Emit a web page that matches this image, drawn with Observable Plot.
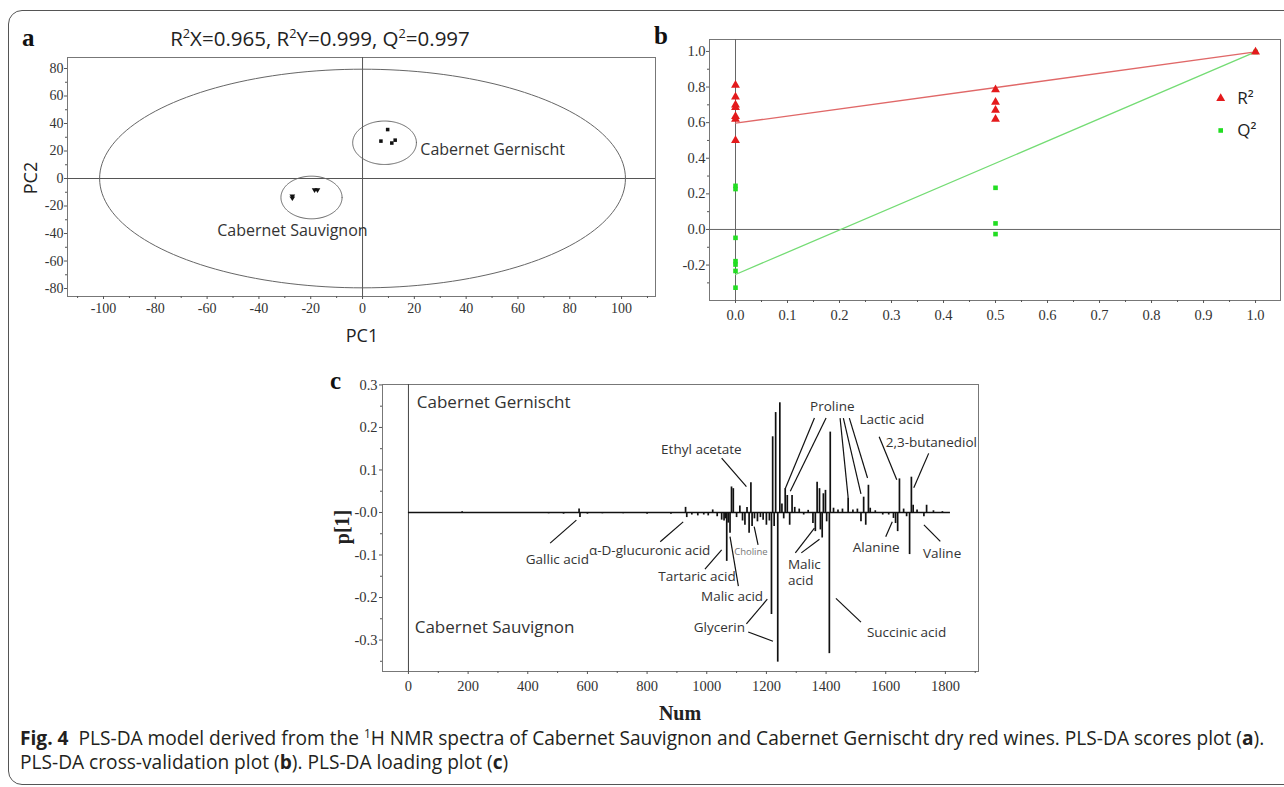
<!DOCTYPE html>
<html><head><meta charset="utf-8">
<script src="https://cdn.jsdelivr.net/npm/d3@7"></script>
<script src="https://cdn.jsdelivr.net/npm/@observablehq/plot@0.6"></script>
<style>
html,body{margin:0;padding:0;background:#fff;}
body{width:1284px;height:787px;overflow:hidden;position:relative;}
.border{position:absolute;left:8px;top:10px;width:1310px;height:775px;border:1.5px solid #555;border-radius:14px;box-sizing:border-box;}
.panel{position:absolute;}
.plabel{position:absolute;font-family:"Liberation Serif",serif;font-weight:bold;font-size:25px;line-height:28px;color:#111;}
.sans{position:absolute;font-family:"Open Sans",sans-serif;color:#222;white-space:nowrap;line-height:24px;}
.serifb{position:absolute;font-family:"Liberation Serif",serif;font-weight:bold;color:#222;white-space:nowrap;line-height:24px;}
sup{font-size:62%;line-height:0;}
.caption{position:absolute;left:20px;top:726px;font-family:"Open Sans",sans-serif;font-size:19.15px;line-height:24px;color:#231f20;white-space:nowrap;}
</style></head>
<body>
<div class="border"></div>
<div id="pa" class="panel" style="left:0;top:0"></div>
<div id="pb" class="panel" style="left:640px;top:0"></div>
<div id="pc" class="panel" style="left:320px;top:330px"></div>
<div class="plabel" style="left:22px;top:24px">a</div>
<div class="sans" style="left:320px;top:26px;font-size:20.5px;transform:translateX(-50%)">R<sup>2</sup>X=0.965, R<sup>2</sup>Y=0.999, Q<sup>2</sup>=0.997</div>
<div class="sans" style="left:362px;top:323px;font-size:18px;transform:translateX(-50%)">PC1</div>
<div class="sans" style="left:30px;top:178px;font-size:18px;transform:translate(-50%,-50%) rotate(-90deg)">PC2</div>
<div class="plabel" style="left:654px;top:22px">b</div>
<div class="plabel" style="left:330px;top:367px">c</div>
<div class="serifb" style="left:680px;top:701px;font-size:20px;transform:translateX(-50%)">Num</div>
<div class="serifb" style="left:342px;top:527px;font-size:20px;transform:translate(-50%,-50%) rotate(-90deg)">p[1]</div>
<div class="caption"><b>Fig. 4</b>&nbsp; PLS-DA model derived from the <sup>1</sup>H NMR spectra of Cabernet Sauvignon and Cabernet Gernischt dry red wines. PLS-DA scores plot (<b>a</b>).<br>PLS-DA cross-validation plot (<b>b</b>). PLS-DA loading plot (<b>c</b>)</div>
<script>
const serif = "'Liberation Serif','Times New Roman',serif";
const sans = "'Open Sans','Noto Sans',sans-serif";

// ---------- Panel a: scores plot ----------
const cgPC1 = [9.7, 7.1, 11.3, 12.6];
const cgPC2 = [35.6, 27.2, 25.8, 27.9];
const csPC1 = [-27.1, -27.1, -18.5, -17.4];
const csPC2 = [-12.8, -14.3, -8.4, -8.4];
const groupNames = ["Cabernet Gernischt", "Cabernet Sauvignon"];
const groupLabelPC1 = [22.3, -56.1];
const groupLabelPC2 = [20.8, -38.2];
const groupCirclePC1 = [8.5, -19.7];
const groupCirclePC2 = [26, -13.8];
const groupRadiusPC1 = [12.3, 11.8];
const groupRadiusPC2 = [15.8, 15.5];
const t2Radius = [101.5, 79.5];
const xTicksA = [-100, -80, -60, -40, -20, 0, 20, 40, 60, 80, 100];
const yTicksA = [-80, -60, -40, -20, 0, 20, 40, 60, 80];
const xMinorA = [-110, -90, -70, -50, -30, -10, 10, 30, 50, 70, 90, 110];
const yMinorA = [-70, -50, -30, -10, 10, 30, 50, 70];

// ---------- Panel b: cross-validation ----------
const r2Perm = [0, 0, 0, 0, 0, 0, 0, 0.5, 0.5, 0.5, 0.5, 1.0];
const r2Val = [0.81, 0.745, 0.70, 0.685, 0.635, 0.62, 0.50, 0.785, 0.715, 0.67, 0.62, 0.997];
const q2Perm = [0, 0, 0, 0, 0, 0, 0, 0.5, 0.5, 0.5, 1.0];
const q2Val = [0.245, 0.227, -0.047, -0.178, -0.197, -0.233, -0.327, 0.234, 0.034, -0.026, 0.997];
const fitX = [0, 1];
const r2Fit = [0.597, 0.997];
const q2Fit = [-0.253, 0.997];
const legendNames = ["R²", "Q²"];
const legendY = [0.736, 0.556];
const xTicksB = [0, 0.1, 0.2, 0.3, 0.4, 0.5, 0.6, 0.7, 0.8, 0.9, 1.0];
const xTickLabelsB = ["0.0","0.1","0.2","0.3","0.4","0.5","0.6","0.7","0.8","0.9","1.0"];
const xMinorB = [0.05, 0.15, 0.25, 0.35, 0.45, 0.55, 0.65, 0.75, 0.85, 0.95];
const yTicksB = [-0.2, 0, 0.2, 0.4, 0.6, 0.8, 1.0];
const yTickLabelsB = ["-0.2","0.0","0.2","0.4","0.6","0.8","1.0"];
const yMinorB = [-0.3, -0.1, 0.1, 0.3, 0.5, 0.7, 0.9];

// ---------- Panel c: loading plot ----------
const loadingPeaks = [
  [100,-0.002],[180,0.002],[330,-0.002],[470,-0.003],[520,-0.004],[572,0.008],[575,-0.012],[600,-0.004],
  [650,-0.003],[720,-0.003],[800,-0.004],[880,-0.004],[929,0.012],[933,-0.012],[950,-0.006],[970,-0.008],
  [990,-0.006],[1005,-0.008],[1020,0.006],[1035,-0.01],[1050,-0.018],[1058,-0.02],[1062,-0.015],[1067,-0.115],
  [1072,-0.025],[1078,-0.049],[1083,0.06],[1089,0.056],[1100,-0.012],[1111,0.015],[1120,-0.02],[1128,-0.03],
  [1135,0.012],[1142,-0.049],[1148,0.07],[1152,-0.033],[1160,-0.015],[1170,-0.022],[1180,-0.012],[1189,-0.018],
  [1200,-0.03],[1210,-0.02],[1217,-0.24],[1221,0.178],[1226,-0.033],[1231,0.235],[1238,-0.352],[1245,0.258],
  [1252,0.02],[1258,-0.015],[1263,0.056],[1270,0.04],[1278,-0.03],[1286,0.04],[1295,0.012],[1310,0.008],
  [1325,-0.006],[1340,0.005],[1356,-0.026],[1364,-0.045],[1370,0.071],[1378,0.056],[1381,-0.041],[1387,-0.06],
  [1391,0.044],[1398,0.052],[1402,-0.022],[1411,-0.332],[1414,0.189],[1425,0.01],[1440,0.006],[1455,0.008],
  [1474,0.034],[1490,0.006],[1505,0.008],[1517,-0.022],[1526,0.036],[1533,-0.03],[1542,0.064],[1548,0.01],
  [1565,0.004],[1590,-0.006],[1610,-0.006],[1626,-0.014],[1633,-0.026],[1640,-0.045],[1646,0.079],[1660,0.008],
  [1670,-0.01],[1680,-0.099],[1686,0.083],[1692,0.017],[1705,0.006],[1728,-0.01],[1737,0.017],[1760,0.004],[1790,0.002]
];
const spectrumRange = [0, 1817];
const annotText = ["Ethyl acetate","Proline","Lactic acid","2,3-butanediol","Alanine","Valine","Succinic acid","Malic\nacid","Glycerin","Malic acid","Tartaric acid","α-D-glucuronic acid","Gallic acid"];
const annotNum = [982, 1421, 1512, 1600, 1568, 1789, 1537, 1272, 1128, 1189, 1097, 605, 605];
const annotVal = [0.149, 0.252, 0.22, 0.167, -0.08, -0.094, -0.28, -0.139, -0.27, -0.196, -0.149, -0.088, -0.11];
const annotAnchor = ["middle","middle","start","start","middle","middle","start","start","end","end","end","start","end"];
const cholineLabel = ["Choline"], cholineNum = [1092], cholineVal = [-0.094];
const leaderNum1 = [1050,1361,1400,1447,1458,1478,1578,1744,1600,1783,1517,1297,1317,1172,1133,1139,1106,994,844,475];
const leaderVal1 = [0.128,0.222,0.222,0.222,0.222,0.222,0.178,0.139,-0.057,-0.068,-0.258,-0.095,-0.095,-0.076,-0.262,-0.281,-0.173,-0.133,-0.069,-0.072];
const leaderNum2 = [1133,1263,1280,1474,1517,1539,1637,1694,1622,1728,1433,1361,1378,1159,1203,1222,1078,1050,921,563];
const leaderVal2 = [0.061,0.056,0.05,0.035,0.044,0.081,0.077,0.058,-0.022,-0.029,-0.202,-0.037,-0.063,-0.033,-0.204,-0.303,-0.057,-0.088,-0.022,-0.018];
const sideNames = ["Cabernet Gernischt", "Cabernet Sauvignon"];
const sideNum = [28, 21];
const sideVal = [0.259, -0.27];
const xTicksC = [0, 200, 400, 600, 800, 1000, 1200, 1400, 1600, 1800];
const xMinorC = [100, 300, 500, 700, 900, 1100, 1300, 1500, 1700, 1900];
const yTicksC = [-0.3, -0.2, -0.1, 0, 0.1, 0.2, 0.3];
const yTickLabelsC = ["-0.3","-0.2","-0.1","-0.0","0.1","0.2","0.3"];
const yMinorC = [-0.35, -0.25, -0.15, -0.05, 0.05, 0.15, 0.25];

// helpers
const idx = (a) => a.map((_, i) => i);
function ellipsePoints(cx, cy, rx, ry) {
  return d3.range(0, 361, 2).map(a => ({x: cx + rx * Math.cos(a * Math.PI / 180), y: cy + ry * Math.sin(a * Math.PI / 180)}));
}
const downTriangle = {
  draw(ctx, size) {
    const r = Math.sqrt(size / Math.PI) * 1.25;
    ctx.moveTo(-r, -r * 0.6); ctx.lineTo(r, -r * 0.6); ctx.lineTo(0, r); ctx.closePath();
  }
};
const tickStyle = {fontFamily: serif, stroke: "#555"};
const minorStyle = {stroke: "#555", tickSize: 2, tickFormat: () => "", label: null};
function serifTicks(svg, size) {
  d3.select(svg).selectAll("text").filter(function () {
    return /^[-−]?\d+(\.\d+)?$/.test(this.textContent.trim());
  }).style("font-family", serif).style("font-size", size + "px");
}

// ---------- draw a ----------
const ellipses = [ellipsePoints(0, 0, t2Radius[0], t2Radius[1])]
  .concat(groupCirclePC1.map((cx, i) => ellipsePoints(cx, groupCirclePC2[i], groupRadiusPC1[i], groupRadiusPC2[i])));
const plotA = Plot.plot({
  width: 680, height: 350,
  marginLeft: 67, marginRight: 25, marginTop: 57, marginBottom: 54,
  x: {domain: [-113.9, 113.1]},
  y: {domain: [-85.8, 88]},
  style: {background: "transparent", color: "#333"},
  marks: [
    Plot.frame({stroke: "#777"}),
    Plot.ruleX([0], {stroke: "#555"}),
    Plot.ruleY([0], {stroke: "#555"}),
    ...ellipses.map(pts => Plot.line(pts, {x: "x", y: "y", stroke: "#666", strokeWidth: 1})),
    Plot.dot(idx(cgPC1), {x: i => cgPC1[i], y: i => cgPC2[i], symbol: "square", r: 2, fill: "#111", stroke: null}),
    Plot.dot(idx(csPC1), {x: i => csPC1[i], y: i => csPC2[i], symbol: downTriangle, r: 2.3, fill: "#111", stroke: null}),
    Plot.text(idx(groupNames), {x: i => groupLabelPC1[i], y: i => groupLabelPC2[i], text: i => groupNames[i], textAnchor: "start", fontFamily: sans, fontSize: 16, fill: "#333"}),
    Plot.axisX(xTicksA, {...tickStyle, tickSize: 3, tickPadding: 4, tickFormat: d => String(d), label: null}),
    Plot.axisX(xMinorA, minorStyle),
    Plot.axisY(yTicksA, {...tickStyle, tickSize: 3, tickPadding: 1, tickFormat: d => String(d), label: null}),
    Plot.axisY(yMinorA, minorStyle)
  ]
});
serifTicks(plotA, 14);
document.getElementById("pa").appendChild(plotA);

// ---------- draw b ----------
const plotB = Plot.plot({
  width: 644, height: 340,
  marginLeft: 69, marginRight: 4, marginTop: 39, marginBottom: 40,
  x: {domain: [-0.05, 1.048]},
  y: {domain: [-0.399, 1.067]},
  style: {background: "transparent", color: "#333"},
  marks: [
    Plot.frame({stroke: "#777"}),
    Plot.ruleX([0], {stroke: "#666"}),
    Plot.ruleY([0], {stroke: "#666"}),
    Plot.line(idx(fitX), {x: i => fitX[i], y: i => r2Fit[i], stroke: "#e06868", strokeWidth: 1.3}),
    Plot.line(idx(fitX), {x: i => fitX[i], y: i => q2Fit[i], stroke: "#74dc74", strokeWidth: 1.3}),
    Plot.dot(idx(q2Perm), {x: i => q2Perm[i], y: i => q2Val[i], symbol: "square", r: 2.6, fill: "#22dd22", stroke: null}),
    Plot.dot(idx(r2Perm), {x: i => r2Perm[i], y: i => r2Val[i], symbol: "triangle", r: 3.3, fill: "#e41a1c", stroke: null}),
    Plot.dot([0], {x: 0.933, y: legendY[0], symbol: "triangle", r: 3.3, fill: "#e41a1c", stroke: null}),
    Plot.dot([0], {x: 0.933, y: legendY[1], symbol: "square", r: 2.6, fill: "#22dd22", stroke: null}),
    Plot.text(idx(legendNames), {x: 0.965, y: i => legendY[i], text: i => legendNames[i], textAnchor: "start", fontFamily: sans, fontSize: 17, fill: "#222"}),
    Plot.axisX(xTicksB, {...tickStyle, tickSize: 3, tickPadding: 6, tickFormat: (d, i) => xTickLabelsB[i], label: null}),
    Plot.axisX(xMinorB, minorStyle),
    Plot.axisY(yTicksB, {...tickStyle, tickSize: 3, tickPadding: 1, tickFormat: (d, i) => yTickLabelsB[i], label: null}),
    Plot.axisY(yMinorB, minorStyle)
  ]
});
serifTicks(plotB, 14.5);
document.getElementById("pb").appendChild(plotB);

// ---------- draw c ----------
const annotMarks = ["start", "middle", "end"].map(anchor => {
  const ids = idx(annotText).filter(i => annotAnchor[i] === anchor);
  return Plot.text(ids, {x: i => annotNum[i], y: i => annotVal[i], text: i => annotText[i], textAnchor: anchor, lineHeight: 1.2, fontFamily: sans, fontSize: 13.5, fill: "#333"});
});
const plotC = Plot.plot({
  width: 680, height: 400,
  marginLeft: 62, marginRight: 22, marginTop: 54, marginBottom: 59,
  x: {domain: [-87, 1911]},
  y: {domain: [-0.374, 0.301]},
  style: {background: "transparent", color: "#333"},
  marks: [
    Plot.frame({stroke: "#777"}),
    Plot.ruleX([0], {stroke: "#444"}),
    Plot.ruleY([0], {x1: spectrumRange[0], x2: spectrumRange[1], stroke: "#111", strokeWidth: 1.5}),
    Plot.ruleX(loadingPeaks, {x: d => d[0], y1: 0, y2: d => d[1], stroke: "#111", strokeWidth: 1.7}),
    Plot.link(idx(leaderNum1), {x1: i => leaderNum1[i], y1: i => leaderVal1[i], x2: i => leaderNum2[i], y2: i => leaderVal2[i], stroke: "#111", strokeWidth: 1.2}),
    ...annotMarks,
    Plot.text(cholineLabel, {x: cholineNum[0], y: cholineVal[0], text: d => d, textAnchor: "start", fontFamily: sans, fontSize: 9.5, fill: "#777"}),
    Plot.text(idx(sideNames), {x: i => sideNum[i], y: i => sideVal[i], text: i => sideNames[i], textAnchor: "start", fontFamily: sans, fontSize: 17, fill: "#333"}),
    Plot.axisX(xTicksC, {...tickStyle, tickSize: 3, tickPadding: 6, label: null, tickFormat: d => String(d)}),
    Plot.axisX(xMinorC, minorStyle),
    Plot.axisY(yTicksC, {...tickStyle, tickSize: 3, tickPadding: 2, tickFormat: (d, i) => yTickLabelsC[i], label: null}),
    Plot.axisY(yMinorC, minorStyle)
  ]
});
serifTicks(plotC, 14.5);
document.getElementById("pc").appendChild(plotC);
</script>
</body></html>
